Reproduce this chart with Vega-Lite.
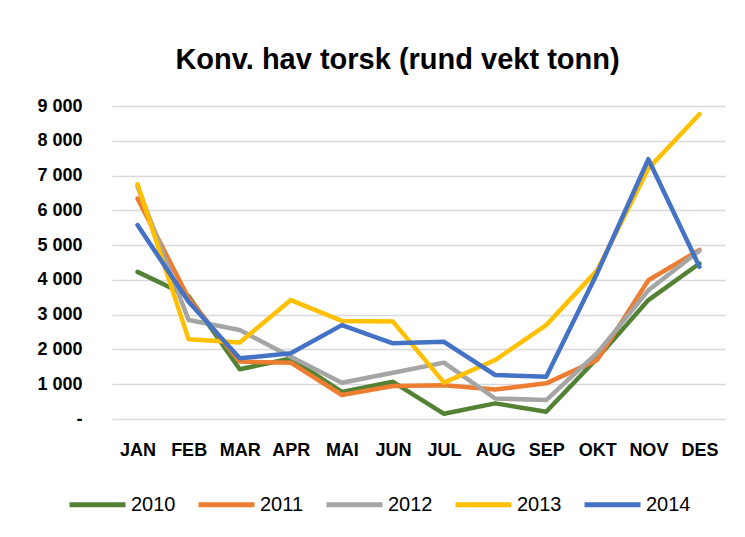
{
  "$schema": "https://vega.github.io/schema/vega-lite/v6.json",
  "width": 613,
  "height": 313,
  "autosize": {"type": "none"},
  "padding": {"left": 112, "top": 106, "right": 20, "bottom": 118},
  "background": "white",
  "title": {
    "text": "Konv. hav torsk (rund vekt tonn)",
    "font": "Liberation Sans",
    "fontSize": 29,
    "fontWeight": "bold",
    "color": "#000000",
    "anchor": "middle",
    "dx": -21,
    "offset": 22
  },
  "data": {
    "values": [
      {"month": "JAN", "year": "2010", "value": 4230},
      {"month": "FEB", "year": "2010", "value": 3530},
      {"month": "MAR", "year": "2010", "value": 1430},
      {"month": "APR", "year": "2010", "value": 1740},
      {"month": "MAI", "year": "2010", "value": 780},
      {"month": "JUN", "year": "2010", "value": 1070},
      {"month": "JUL", "year": "2010", "value": 150},
      {"month": "AUG", "year": "2010", "value": 450},
      {"month": "SEP", "year": "2010", "value": 210},
      {"month": "OKT", "year": "2010", "value": 1750},
      {"month": "NOV", "year": "2010", "value": 3420},
      {"month": "DES", "year": "2010", "value": 4470},
      {"month": "JAN", "year": "2011", "value": 6340},
      {"month": "FEB", "year": "2011", "value": 3470},
      {"month": "MAR", "year": "2011", "value": 1650},
      {"month": "APR", "year": "2011", "value": 1620},
      {"month": "MAI", "year": "2011", "value": 690},
      {"month": "JUN", "year": "2011", "value": 950},
      {"month": "JUL", "year": "2011", "value": 970},
      {"month": "AUG", "year": "2011", "value": 850},
      {"month": "SEP", "year": "2011", "value": 1025},
      {"month": "OKT", "year": "2011", "value": 1700},
      {"month": "NOV", "year": "2011", "value": 3990},
      {"month": "DES", "year": "2011", "value": 4860},
      {"month": "JAN", "year": "2012", "value": 6680},
      {"month": "FEB", "year": "2012", "value": 2845},
      {"month": "MAR", "year": "2012", "value": 2560},
      {"month": "APR", "year": "2012", "value": 1790},
      {"month": "MAI", "year": "2012", "value": 1040},
      {"month": "JUN", "year": "2012", "value": 1330},
      {"month": "JUL", "year": "2012", "value": 1620},
      {"month": "AUG", "year": "2012", "value": 590},
      {"month": "SEP", "year": "2012", "value": 545},
      {"month": "OKT", "year": "2012", "value": 1900},
      {"month": "NOV", "year": "2012", "value": 3700},
      {"month": "DES", "year": "2012", "value": 4840},
      {"month": "JAN", "year": "2013", "value": 6750},
      {"month": "FEB", "year": "2013", "value": 2290},
      {"month": "MAR", "year": "2013", "value": 2200},
      {"month": "APR", "year": "2013", "value": 3420},
      {"month": "MAI", "year": "2013", "value": 2820},
      {"month": "JUN", "year": "2013", "value": 2800},
      {"month": "JUL", "year": "2013", "value": 1045},
      {"month": "AUG", "year": "2013", "value": 1695},
      {"month": "SEP", "year": "2013", "value": 2700},
      {"month": "OKT", "year": "2013", "value": 4280},
      {"month": "NOV", "year": "2013", "value": 7200},
      {"month": "DES", "year": "2013", "value": 8765},
      {"month": "JAN", "year": "2014", "value": 5575},
      {"month": "FEB", "year": "2014", "value": 3370},
      {"month": "MAR", "year": "2014", "value": 1745},
      {"month": "APR", "year": "2014", "value": 1890},
      {"month": "MAI", "year": "2014", "value": 2700},
      {"month": "JUN", "year": "2014", "value": 2175},
      {"month": "JUL", "year": "2014", "value": 2220},
      {"month": "AUG", "year": "2014", "value": 1265},
      {"month": "SEP", "year": "2014", "value": 1215},
      {"month": "OKT", "year": "2014", "value": 4200},
      {"month": "NOV", "year": "2014", "value": 7470},
      {"month": "DES", "year": "2014", "value": 4380}
    ]
  },
  "mark": {"type": "line", "strokeWidth": 4.5, "strokeJoin": "round", "strokeCap": "round"},
  "encoding": {
    "x": {
      "field": "month",
      "type": "ordinal",
      "sort": ["JAN", "FEB", "MAR", "APR", "MAI", "JUN", "JUL", "AUG", "SEP", "OKT", "NOV", "DES"],
      "scale": {"type": "point", "padding": 0.5},
      "axis": {
        "title": null,
        "labelAngle": 0,
        "domain": false,
        "ticks": false,
        "grid": false,
        "labelFont": "Liberation Sans",
        "labelFontSize": 18,
        "labelFontWeight": "bold",
        "labelColor": "#000000",
        "labelPadding": 22
      }
    },
    "y": {
      "field": "value",
      "type": "quantitative",
      "scale": {"domain": [0, 9000], "nice": false},
      "axis": {
        "title": null,
        "values": [0, 1000, 2000, 3000, 4000, 5000, 6000, 7000, 8000, 9000],
        "labelExpr": "datum.value == 0 ? '-\u00a0\u00a0' : replace(format(datum.value, ','), ',', ' ')",
        "domain": false,
        "ticks": false,
        "grid": true,
        "gridColor": "#d9d9d9",
        "gridWidth": 1.5,
        "labelFont": "Liberation Sans",
        "labelFontSize": 18,
        "labelFontWeight": "bold",
        "labelColor": "#000000",
        "labelPadding": 30
      }
    },
    "color": {
      "field": "year",
      "type": "nominal",
      "scale": {
        "domain": ["2010", "2011", "2012", "2013", "2014"],
        "range": ["#548235", "#ED7D31", "#A5A5A5", "#FFC000", "#4472C4"]
      },
      "legend": {
        "title": null,
        "orient": "none",
        "direction": "horizontal",
        "legendX": -45,
        "legendY": 368,
        "symbolType": "stroke",
        "symbolSize": 3136,
        "symbolStrokeWidth": 5,
        "labelFont": "Liberation Sans",
        "labelFontSize": 20,
        "labelColor": "#000000",
        "labelOffset": 3,
        "columnPadding": 12
      }
    }
  },
  "config": {
    "view": {"stroke": null}
  }
}
